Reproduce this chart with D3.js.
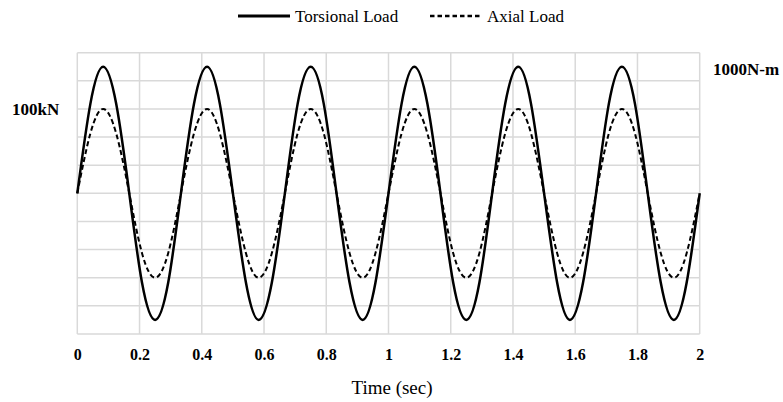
<!DOCTYPE html>
<html>
<head>
<meta charset="utf-8">
<script src="https://cdn.jsdelivr.net/npm/d3@7"></script>
<style>
  html, body { margin: 0; padding: 0; background: #fff; }
  svg { display: block; }
</style>
</head>
<body>
<svg id="chart" width="783" height="402"></svg>
<script>
// ---- Data ----
const time = [
  0.000, 0.042, 0.083, 0.125, 0.167, 0.208, 0.250, 0.292,
  0.333, 0.375, 0.417, 0.458, 0.500, 0.542, 0.583, 0.625,
  0.667, 0.708, 0.750, 0.792, 0.833, 0.875, 0.917, 0.958,
  1.000, 1.042, 1.083, 1.125, 1.167, 1.208, 1.250, 1.292,
  1.333, 1.375, 1.417, 1.458, 1.500, 1.542, 1.583, 1.625,
  1.667, 1.708, 1.750, 1.792, 1.833, 1.875, 1.917, 1.958,
  2.000
];
// Torsional load (N-m)
const torsionalLoad = [
  0, 707, 1000, 707, 0, -707, -1000, -707,
  0, 707, 1000, 707, 0, -707, -1000, -707,
  0, 707, 1000, 707, 0, -707, -1000, -707,
  0, 707, 1000, 707, 0, -707, -1000, -707,
  0, 707, 1000, 707, 0, -707, -1000, -707,
  0, 707, 1000, 707, 0, -707, -1000, -707,
  0
];
// Axial load (kN)
const axialLoad = [
  0, 71, 100, 71, 0, -71, -100, -71,
  0, 71, 100, 71, 0, -71, -100, -71,
  0, 71, 100, 71, 0, -71, -100, -71,
  0, 71, 100, 71, 0, -71, -100, -71,
  0, 71, 100, 71, 0, -71, -100, -71,
  0, 71, 100, 71, 0, -71, -100, -71,
  0
];
const xTicks = [0, 0.2, 0.4, 0.6, 0.8, 1, 1.2, 1.4, 1.6, 1.8, 2];
const xTickLabels = ["0", "0.2", "0.4", "0.6", "0.8", "1", "1.2", "1.4", "1.6", "1.8", "2"];
const gridLevels = [-5, -4, -3, -2, -1, 0, 1, 2, 3, 4, 5];
const seriesNames = ["Torsional Load", "Axial Load"];
const axialLabel = "100kN", axialLabelValue = 100;
const torqueLabel = "1000N-m", torqueLabelValue = 1000;
const xTitle = "Time (sec)";

// ---- Layout ----
const svg = d3.select("#chart");
const L = 77.3, R = 699.7, T = 52.7, B = 334;
const serif = "'Liberation Serif', 'Times New Roman', serif";

const x = d3.scaleLinear().domain([0, 2]).range([L, R]);
const yGrid = d3.scaleLinear().domain([-5, 5]).range([B, T]);
// axial: 100 kN sits 3 grid steps above zero; torque: 1000 N-m sits 4.5 steps above zero
const yAxial = d3.scaleLinear().domain([-500 / 3, 500 / 3]).range([B, T]);
const yTorque = d3.scaleLinear().domain([-10000 / 9, 10000 / 9]).range([B, T]);

// grid
const g = svg.append("g");
g.selectAll("line.h").data(gridLevels).join("line")
  .attr("x1", L).attr("x2", R)
  .attr("y1", d => yGrid(d)).attr("y2", d => yGrid(d))
  .attr("stroke", "#d9d9d9").attr("stroke-width", 1.5);
g.selectAll("line.v").data(xTicks).join("line")
  .attr("x1", d => x(d)).attr("x2", d => x(d))
  .attr("y1", T).attr("y2", B)
  .attr("stroke", "#d9d9d9").attr("stroke-width", 1.5);

// x axis labels
const xAxis = d3.axisBottom(x).tickValues(xTicks)
  .tickFormat((d, i) => xTickLabels[i]).tickSize(0).tickPadding(15);
const ax = svg.append("g").attr("transform", `translate(0,${B})`).call(xAxis);
ax.select(".domain").remove();
ax.selectAll("text").attr("font-family", serif).attr("font-weight", "bold")
  .attr("font-size", 16).attr("fill", "#000");

// lines
const pts = time.map((t, i) => ({t, tq: torsionalLoad[i], ax: axialLoad[i]}));
const lineT = d3.line().x(d => x(d.t)).y(d => yTorque(d.tq)).curve(d3.curveNatural);
const lineA = d3.line().x(d => x(d.t)).y(d => yAxial(d.ax)).curve(d3.curveNatural);
svg.append("path").datum(pts).attr("d", lineA)
  .attr("fill", "none").attr("stroke", "#000").attr("stroke-width", 2)
  .attr("stroke-dasharray", "5,3");
svg.append("path").datum(pts).attr("d", lineT)
  .attr("fill", "none").attr("stroke", "#000").attr("stroke-width", 2.5);

// side labels
svg.append("text").attr("x", 12).attr("y", yAxial(axialLabelValue) + 6)
  .attr("font-family", serif).attr("font-weight", "bold").attr("font-size", 17)
  .text(axialLabel);
svg.append("text").attr("x", 713).attr("y", yTorque(torqueLabelValue) + 8)
  .attr("font-family", serif).attr("font-weight", "bold").attr("font-size", 17)
  .text(torqueLabel);

// x title
svg.append("text").attr("x", 392).attr("y", 394)
  .attr("text-anchor", "middle").attr("font-family", serif).attr("font-size", 19)
  .text(xTitle);

// legend
const leg = svg.append("g");
const legItems = [
  {name: seriesNames[0], x1: 238, x2: 290, tx: 295, dash: null, w: 3},
  {name: seriesNames[1], x1: 430, x2: 482, tx: 487, dash: "4.5,3", w: 2.5}
];
legItems.forEach(it => {
  leg.append("line").attr("x1", it.x1).attr("x2", it.x2).attr("y1", 16).attr("y2", 16)
    .attr("stroke", "#000").attr("stroke-width", it.w)
    .attr("stroke-dasharray", it.dash);
  leg.append("text").attr("x", it.tx).attr("y", 22)
    .attr("font-family", serif).attr("font-size", 17).text(it.name);
});
</script>
</body>
</html>
